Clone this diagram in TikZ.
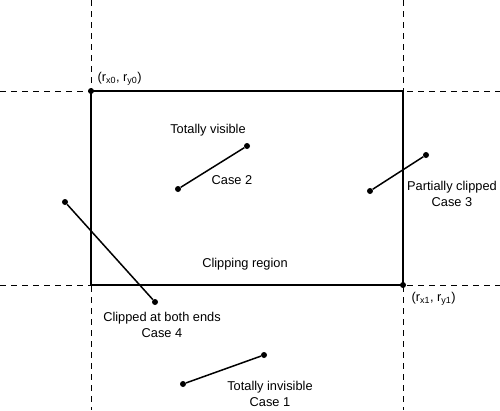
\documentclass[tikz,border=0pt]{standalone}
\usepackage{fontspec}
\setmainfont{Liberation Sans}
\usetikzlibrary{positioning}

\begin{document}
\begin{tikzpicture}[x=1pt,y=-1pt,every node/.style={font=\fontsize{12.8}{15.5}\selectfont},
	guide/.style={dash pattern=on 6pt off 5pt,line width=1pt},
	border/.style={line width=1.6pt},
	seg/.style={line width=1.5pt},
	dot/.style={circle,fill,inner sep=0pt,minimum size=6pt}]

	\useasboundingbox (0,0) rectangle (500,410);

	% dashed extensions of the clipping window
	\coordinate (vl0) at (91,0);   \coordinate (vl1) at (91,410);
	\coordinate (vr0) at (403,0);  \coordinate (vr1) at (403,410);
	\coordinate (ht0) at (0,91);   \coordinate (ht1) at (500,91);
	\coordinate (hb0) at (0,285);  \coordinate (hb1) at (500,285);
	\draw[guide] (vl0) -- (vl1) (vr0) -- (vr1) (ht0) -- (ht1) (hb0) -- (hb1);

	% clipping window
	\coordinate (lo) at (91,91);
	\coordinate (hi) at (403,285);
	\draw[border] (lo) rectangle (hi);
	\node[dot] (plo) at (lo) {};
	\node[dot] (phi) at (hi) {};
	\node[anchor=west] (llo) at (94,79) {(r\textsubscript{x0}, r\textsubscript{y0})};
	\node[anchor=west] (lhi) at (408,299) {(r\textsubscript{x1}, r\textsubscript{y1})};
	\node (region) at (245,264) {Clipping region};

	% case 2
	\node[dot] (a0) at (178,189) {};
	\node[dot] (a1) at (247,146) {};
	\draw[seg] (a0) -- (a1);
	\node (vis) at (208,130) {Totally visible};
	\node (c2) at (232,180) {Case 2};

	% case 3
	\node[dot] (b0) at (370,191) {};
	\node[dot] (b1) at (426,155) {};
	\draw[seg] (b0) -- (b1);
	\node[align=center] (part) at (452,194) {Partially clipped\\Case 3};

	% case 4
	\node[dot] (d0) at (65,202) {};
	\node[dot] (d1) at (155,302) {};
	\draw[seg] (d0) -- (d1);
	\node[align=center] (both) at (162,325) {Clipped at both ends\\Case 4};

	% case 1
	\node[dot] (e0) at (183,384) {};
	\node[dot] (e1) at (264,355) {};
	\draw[seg] (e0) -- (e1);
	\node[align=center] (invis) at (270,394) {Totally invisible\\Case 1};
\end{tikzpicture}
\end{document}
